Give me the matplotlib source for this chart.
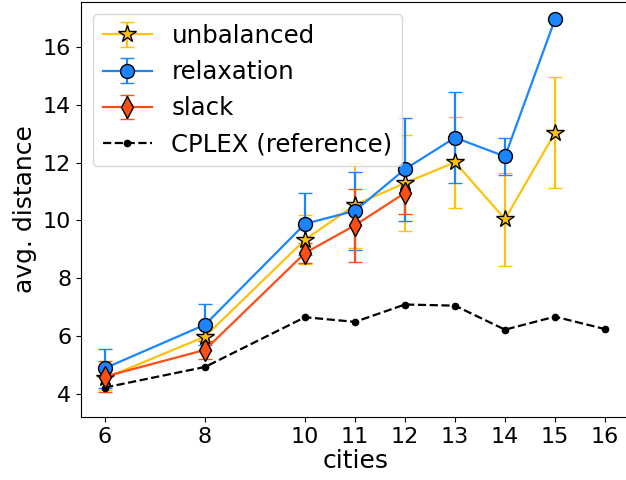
import matplotlib
matplotlib.use("Agg")
import matplotlib.pyplot as plt

cities_unb = [6, 8, 10, 11, 12, 13, 14, 15]
unbalanced = [4.54, 5.98, 9.33, 10.53, 11.29, 12.01, 10.04, 13.03]
unbalanced_err = [0.40, 0.50, 0.84, 1.47, 1.66, 1.57, 1.61, 1.91]

cities_rel = [6, 8, 10, 11, 12, 13, 14, 15]
relaxation = [4.89, 6.39, 9.88, 10.33, 11.77, 12.86, 12.21, 16.95]
relaxation_err = [0.67, 0.71, 1.08, 1.35, 1.78, 1.57, 0.65, 0.0]

cities_slack = [6, 8, 10, 11, 12]
slack = [4.60, 5.52, 8.87, 9.83, 10.95]
slack_err = [0.55, 0.31, 0.35, 1.27, 0.72]

cities_cplex = [6, 8, 10, 11, 12, 13, 14, 15, 16]
cplex = [4.22, 4.93, 6.65, 6.49, 7.09, 7.05, 6.22, 6.67, 6.24]

xticks = [6, 8, 10, 11, 12, 13, 14, 15, 16]

c_unb = "#FFC20A"
c_rel = "#1A85FF"
c_slack = "#FF4E14"

plt.rcParams["font.family"] = ["DejaVu Sans"]
plt.rcParams["font.size"] = 16

fig = plt.figure(figsize=(6.26, 4.80), dpi=100)
ax = fig.add_axes([81 / 626, (480 - 417) / 480, (630 - 81) / 626, (417 - 2) / 480])

h1 = ax.errorbar(cities_unb, unbalanced, yerr=unbalanced_err, color=c_unb, marker="*",
                 markersize=13, markeredgecolor="black", markeredgewidth=1.0,
                 capsize=5, lw=1.6, label="unbalanced")
h2 = ax.errorbar(cities_rel, relaxation, yerr=relaxation_err, color=c_rel, marker="o",
                 markersize=10, markeredgecolor="black", markeredgewidth=1.0,
                 capsize=5, lw=1.6, label="relaxation")
h3 = ax.errorbar(cities_slack, slack, yerr=slack_err, color=c_slack, marker="d",
                 markersize=11, markeredgecolor="black", markeredgewidth=1.0,
                 capsize=5, lw=1.6, label="slack")
h4, = ax.plot(cities_cplex, cplex, color="black", ls="--", marker=".", markersize=9,
              lw=1.6, label="CPLEX (reference)")

ax.set_xticks(xticks)
ax.set_xticklabels([str(t) for t in xticks])
ax.set_yticks([4, 6, 8, 10, 12, 14, 16])
ax.tick_params(labelsize=16)
ax.set_xlim(5.52, 16.5)
ax.set_ylim(3.2, 17.55)
ax.set_xlabel("cities", fontsize=18, labelpad=2)
ax.set_ylabel("avg. distance", fontsize=18)
ax.legend([h1, h2, h3, h4], ["unbalanced", "relaxation", "slack", "CPLEX (reference)"],
          loc="upper left", fontsize=17.6)

fig.savefig("out.png", dpi=100)
